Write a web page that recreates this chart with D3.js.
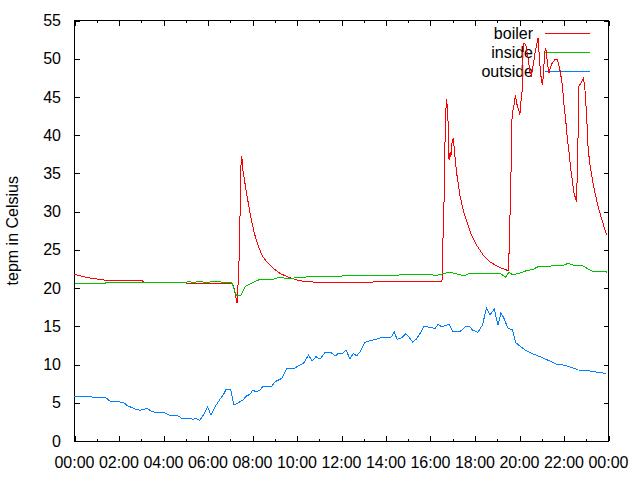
<!DOCTYPE html>
<html>
<head>
<meta charset="utf-8">
<script src="https://cdn.jsdelivr.net/npm/d3@7/dist/d3.min.js"></script>
<style>
  html, body { margin: 0; padding: 0; background: #fff; }
  svg { display: block; }
  text { font-family: "Liberation Sans", Arial, sans-serif; font-size: 16px; fill: #000; }
</style>
</head>
<body>
<svg id="chart" width="640" height="480"></svg>
<script>
// ---- data ----
const seriesNames = ["boiler", "inside", "outside"];
const seriesColors = ["#ff0000", "#00c000", "#0080ff"];

const boilerTimes = ["00:00","00:24","00:47","01:05","01:27","02:08","03:04","03:06","05:02","05:03","07:01","07:08","07:15","07:17","07:19","07:25","07:28","07:30","07:32","07:33","07:38","07:44","07:52","07:58","08:05","08:13","08:25","08:38","08:56","09:14","09:37","09:59","10:24","11:00","13:25","13:26","16:31","16:32","16:36","16:38","16:40","16:43","16:46","16:48","16:50","16:53","16:55","16:57","17:01","17:04","17:07","17:10","17:14","17:19","17:25","17:32","17:41","17:50","18:04","18:22","18:40","19:02","19:20","19:31","19:32","19:36","19:40","19:45","19:49","19:52","19:58","20:01","20:03","20:07","20:10","20:14","20:17","20:23","20:28","20:32","20:37","20:41","20:46","20:50","20:52","20:55","20:59","21:02","21:05","21:08","21:11","21:15","21:19","21:24","21:28","21:35","21:42","21:46","21:50","21:56","22:00","22:05","22:09","22:14","22:18","22:23","22:26","22:31","22:34","22:36","22:38","22:40","22:45","22:50","22:52","22:56","23:01","23:05","23:10","23:16","23:23","23:32","23:41","23:52","23:56"];
const boilerValues = [21.8,21.5,21.28,21.15,21.02,20.93,20.93,20.76,20.76,20.63,20.63,20.4,18.9,18.1,18.1,25.2,34.8,37.28,36.76,35.67,34.23,32.4,30.2,28.69,27.16,25.86,24.33,23.45,22.59,21.93,21.41,21.06,20.84,20.76,20.76,20.89,20.89,23.9,30.0,35.67,41.77,44.73,43.43,40.9,36.76,37.84,37.19,38.72,39.6,38.28,36.76,35.22,33.92,32.18,30.87,29.56,28.25,26.95,25.64,24.33,23.45,22.8,22.46,22.24,25.3,32.2,42.6,43.9,45.26,44.2,43.3,42.6,43.95,45.7,52.0,52.0,51.8,50.06,48.3,47.87,49.18,50.5,51.8,52.67,51.36,49.18,47.2,46.57,48.3,50.9,51.36,49.6,48.1,48.96,49.4,49.84,49.84,49.18,48.3,46.35,43.95,41.77,39.6,37.63,35.67,33.92,32.6,31.75,31.3,35.67,40.03,46.35,46.8,47.2,47.44,46.35,42.64,38.28,36.1,34.36,32.6,30.65,29.13,27.38,26.9];

const insideTimes = ["00:00","01:23","01:24","05:03","05:06","05:20","05:40","05:50","06:30","06:40","07:04","07:17","07:28","07:40","07:53","08:16","08:47","09:10","09:41","10:24","11:02","11:30","13:08","15:58","16:16","16:30","16:52","17:10","17:30","17:45","19:00","19:10","19:22","19:32","19:41","19:59","20:19","20:37","20:50","21:31","21:54","22:11","22:29","22:49","23:14","23:53","23:56"];
const insideValues = [20.63,20.63,20.76,20.76,20.85,20.76,20.85,20.76,20.85,20.76,20.71,18.97,18.97,20.18,20.54,21.06,21.06,21.36,21.28,21.45,21.5,21.54,21.67,21.75,21.67,21.84,22.07,21.85,21.62,21.9,21.93,21.85,21.41,22.1,21.75,21.93,22.28,22.46,22.8,22.9,22.9,23.24,22.93,22.98,22.24,22.15,22.07];

const outsideTimes = ["00:00","01:23","01:35","01:54","02:12","02:21","02:43","02:57","03:06","03:17","03:24","03:37","04:00","04:18","04:29","04:40","04:52","04:58","05:12","05:19","05:28","05:38","05:49","05:59","06:08","06:19","06:31","06:41","06:49","07:01","07:10","07:22","07:34","07:44","07:53","08:01","08:10","08:20","08:29","08:52","09:01","09:19","09:32","09:50","10:08","10:19","10:31","10:41","10:51","11:02","11:16","11:31","11:43","11:52","12:03","12:12","12:23","12:32","12:41","12:52","13:03","13:17","13:35","13:48","14:06","14:15","14:22","14:30","14:42","14:53","15:00","15:12","15:22","15:31","15:42","16:03","16:12","16:20","16:30","16:50","17:01","17:19","17:37","17:46","17:53","18:08","18:20","18:31","18:40","18:52","19:02","19:10","19:18","19:29","19:41","19:50","20:03","20:18","20:37","20:59","21:22","21:40","21:58","22:20","22:38","23:10","23:37","23:53"];
const outsideValues = [5.8,5.72,5.23,5.14,5.06,4.67,4.19,4.01,4.14,4.27,3.97,3.75,3.75,3.31,3.4,3.27,2.88,2.96,2.96,2.84,2.96,2.7,3.53,4.45,3.4,4.49,5.36,6.02,6.76,6.76,4.71,5.01,5.36,5.89,6.1,6.67,6.4,6.67,7.19,7.19,7.76,8.2,9.42,9.42,9.94,10.24,11.25,10.46,11.03,10.72,11.6,11.6,11.12,11.47,11.47,11.9,10.72,11.47,11.12,11.81,12.91,13.12,13.34,13.56,13.51,13.64,14.3,13.3,13.51,14.0,13.73,12.91,13.34,14.0,14.95,14.87,14.65,15.26,14.95,15.26,14.3,14.3,15.04,14.95,14.52,14.22,15.17,17.36,16.48,17.23,15.17,16.78,16.05,14.74,14.52,12.85,12.35,11.8,11.38,10.95,10.46,10.03,9.94,9.64,9.29,9.16,8.93,8.86];

const yTicks = [0,5,10,15,20,25,30,35,40,45,50,55];
const xTickLabels = ["00:00","02:00","04:00","06:00","08:00","10:00","12:00","14:00","16:00","18:00","20:00","22:00","00:00"];
const yLabel = "tepm in Celsius";

// ---- chart ----
(function () {
const svg = d3.select("#chart");
svg.append("rect").attr("width", 640).attr("height", 480).attr("fill", "#fff");

const pLeft = 74.5, pRight = 608.5, pTop = 20.5, pBottom = 441;
const day0 = new Date(2000, 0, 1, 0, 0);
const day1 = new Date(2000, 0, 2, 0, 0);
const parseT = d3.timeParse("%Y-%m-%d %H:%M");
const toDate = s => parseT("2000-01-01 " + s);

const x = d3.scaleTime().domain([day0, day1]).range([pLeft, pRight]);
const y = d3.scaleLinear().domain([0, 55]).range([pBottom, pTop]);

const g = svg.append("g").attr("shape-rendering", "crispEdges");

g.append("rect")
  .attr("x", pLeft).attr("y", pTop)
  .attr("width", pRight - pLeft).attr("height", pBottom - pTop)
  .attr("fill", "none").attr("stroke", "#000").attr("stroke-width", 1);

const majorX = d3.timeHour.every(2).range(day0, new Date(2000, 0, 2, 0, 1));
const minorX = d3.timeHour.every(1).range(day0, day1).filter(d => d.getHours() % 2 === 1);
const ticksG = g.append("g").attr("stroke", "#000").attr("stroke-width", 1);
majorX.forEach(d => {
  const px = Math.round(x(d)) + 0.5;
  ticksG.append("line").attr("x1", px).attr("x2", px).attr("y1", pBottom).attr("y2", pBottom - 5);
  ticksG.append("line").attr("x1", px).attr("x2", px).attr("y1", pTop).attr("y2", pTop + 5);
});
minorX.forEach(d => {
  const px = Math.round(x(d)) + 0.5;
  ticksG.append("line").attr("x1", px).attr("x2", px).attr("y1", pBottom).attr("y2", pBottom - 2.5);
  ticksG.append("line").attr("x1", px).attr("x2", px).attr("y1", pTop).attr("y2", pTop + 2.5);
});
yTicks.forEach(v => {
  const py = Math.round(y(v)) + 0.5;
  ticksG.append("line").attr("x1", pLeft).attr("x2", pLeft + 5).attr("y1", py).attr("y2", py);
  ticksG.append("line").attr("x1", pRight).attr("x2", pRight - 5).attr("y1", py).attr("y2", py);
});

const labG = svg.append("g");
yTicks.forEach(v => {
  labG.append("text").attr("x", 61).attr("y", y(v)).attr("dy", "0.35em")
    .attr("text-anchor", "end").text(d3.format("d")(v));
});
majorX.forEach((d, i) => {
  labG.append("text").attr("x", x(d)).attr("y", 468)
    .attr("text-anchor", "middle").text(xTickLabels[i]);
});

labG.append("text")
  .attr("transform", `translate(18, ${(pTop + pBottom) / 2}) rotate(-90)`)
  .attr("text-anchor", "middle").text(yLabel);

const series = [
  {name: seriesNames[0], color: seriesColors[0], t: boilerTimes, v: boilerValues},
  {name: seriesNames[1], color: seriesColors[1], t: insideTimes, v: insideValues},
  {name: seriesNames[2], color: seriesColors[2], t: outsideTimes, v: outsideValues}
];
const legendRows = [33.5, 52.5, 71.5];
series.forEach((s, i) => {
  svg.append("text").attr("x", 533).attr("y", legendRows[i]).attr("dy", "0.35em")
    .attr("text-anchor", "end").text(s.name);
  svg.append("line").attr("x1", 545).attr("x2", 590)
    .attr("y1", legendRows[i]).attr("y2", legendRows[i])
    .attr("stroke", s.color).attr("stroke-width", 1).attr("shape-rendering", "crispEdges");
});

const line = d3.line().x(d => x(d[0])).y(d => y(d[1]));
series.forEach(s => {
  const pts = s.t.map((tt, k) => [toDate(tt), s.v[k]]);
  svg.append("path").datum(pts)
    .attr("d", line)
    .attr("fill", "none")
    .attr("stroke", s.color)
    .attr("stroke-width", 1)
    .attr("shape-rendering", "crispEdges");
});
})();
</script>
</body>
</html>
